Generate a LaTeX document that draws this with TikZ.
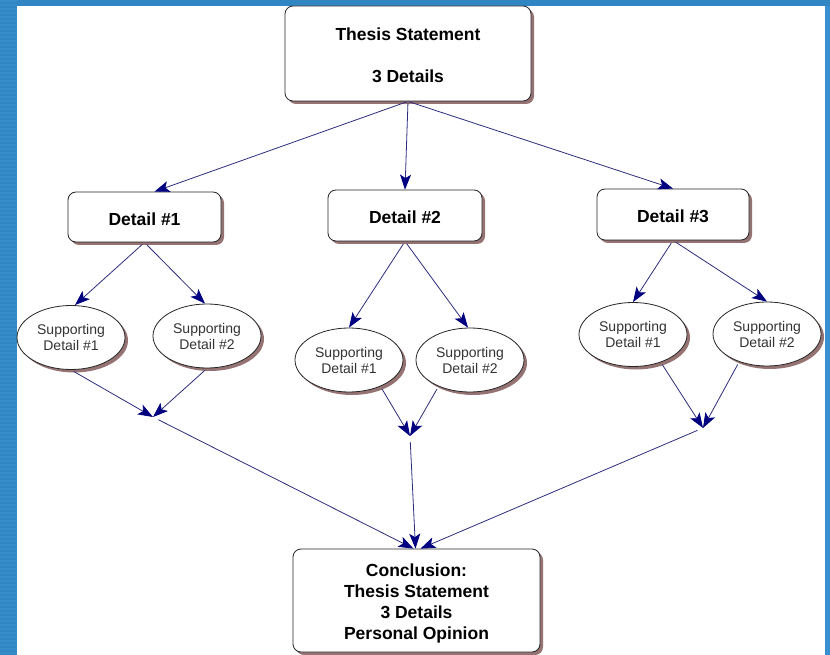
\documentclass[tikz,border=0pt]{standalone}
\usepackage{fontspec}
\setmainfont{Liberation Sans}
\usetikzlibrary{shapes.geometric,arrows.meta,shadows,calc}
\definecolor{bgblue}{RGB}{47,134,194}
\definecolor{bgstripe}{RGB}{54,140,200}
\definecolor{bgright}{RGB}{56,144,208}
\definecolor{linecol}{RGB}{45,45,125}
\definecolor{tipcol}{RGB}{0,0,128}
\definecolor{shadowcol}{RGB}{150,115,115}
\newcommand{\boxlines}[2]{\raisebox{#1}[\height][\depth]{\begin{tabular}{@{}c@{}}#2\end{tabular}}}
\newcommand{\lowered}[2]{\raisebox{#1}[\height][\depth]{#2}}
\begin{document}
\begin{tikzpicture}[x=1pt,y=-1pt,
  box/.style={draw=black!85, line width=0.8pt, rounded corners=8pt, fill=white,
    drop shadow={shadow xshift=3pt,shadow yshift=-3pt,fill=shadowcol,opacity=1},
    font=\fontsize{17.5}{21}\selectfont\bfseries, inner sep=0pt},
  oval/.style={ellipse, draw=black!85, line width=0.8pt, fill=white,
    drop shadow={shadow xshift=3pt,shadow yshift=-3pt,fill=shadowcol,opacity=1},
    minimum width=108pt, minimum height=64pt, inner sep=0pt,
    font=\fontsize{14}{16}\selectfont, text=black!80, align=center},
  arr/.style={draw=linecol, line width=0.8pt, shorten <=3pt,
    -{Stealth[length=15pt,width=11pt,inset=3.5pt,color=tipcol]}}]
\useasboundingbox (0,0) rectangle (830,655);
% background
\fill[bgblue] (0,0) rectangle (830,655);
\foreach \y in {0,4,...,652} \fill[bgstripe] (0,\y) rectangle (17,\y+2);
\fill[bgright] (825,6) rectangle (830,655);
\fill[white] (17,6) rectangle (825,655);

% nodes
\node[box, minimum width=246pt, minimum height=95pt] (thesis) at (408,53.5)
  {\boxlines{-4pt}{Thesis Statement\\[21pt]3 Details}};
\node[box, minimum width=153pt, minimum height=50pt] (d1) at (144.5,217) {\lowered{-2pt}{Detail \#1}};
\node[box, minimum width=154pt, minimum height=51pt] (d2) at (405,215.5) {\lowered{-2pt}{Detail \#2}};
\node[box, minimum width=152pt, minimum height=51pt] (d3) at (673,214.5) {\lowered{-2pt}{Detail \#3}};

\node[oval] (d1s1) at (71,337.5) {Supporting\\Detail \#1};
\node[oval] (d1s2) at (207,336) {Supporting\\Detail \#2};
\node[oval] (d2s1) at (349,360) {Supporting\\Detail \#1};
\node[oval] (d2s2) at (470,360) {Supporting\\Detail \#2};
\node[oval] (d3s1) at (633,334.5) {Supporting\\Detail \#1};
\node[oval] (d3s2) at (767,334) {Supporting\\Detail \#2};

\node[box, minimum width=247pt, minimum height=103pt] (concl) at (416.5,600.5)
  {\boxlines{-3pt}{Conclusion:\\Thesis Statement\\3 Details\\Personal Opinion}};

\coordinate (m1) at (153,417);
\coordinate (m2) at (410,436);
\coordinate (m3) at (703,428);

% connectors
\draw[arr, shorten <=1pt] (thesis.south) -- ([xshift=10pt]d1.north);
\draw[arr, shorten <=1pt] (thesis.south) -- (d2.north);
\draw[arr, shorten <=1pt] (thesis.south) -- (d3.north);

\draw[arr] (d1.south) -- ([xshift=4pt]d1s1.north);
\draw[arr] (d1.south) -- ([xshift=-2pt]d1s2.north);
\draw[arr] (d2.south) -- (d2s1.north);
\draw[arr] (d2.south) -- ([xshift=-2pt]d2s2.north);
\draw[arr] (d3.south) -- (d3s1.north);
\draw[arr] (d3.south) -- (d3s2.north);

\draw[arr] (d1s1.south) -- (m1);
\draw[arr] (d1s2.south) -- (m1);
\draw[arr] (d2s1.-40) -- (m2);
\draw[arr] (d2s2.-140) -- (m2);
\draw[arr] (d3s1.-45) -- (m3);
\draw[arr] (d3s2.-135) -- (m3);

\draw[arr, shorten <=6pt] (m1) -- ([xshift=-3pt]concl.north);
\draw[arr, shorten <=6pt] (m2) -- ([xshift=-1pt]concl.north);
\draw[arr, shorten <=6pt] (m3) -- ([xshift=4pt]concl.north);
\end{tikzpicture}
\end{document}
